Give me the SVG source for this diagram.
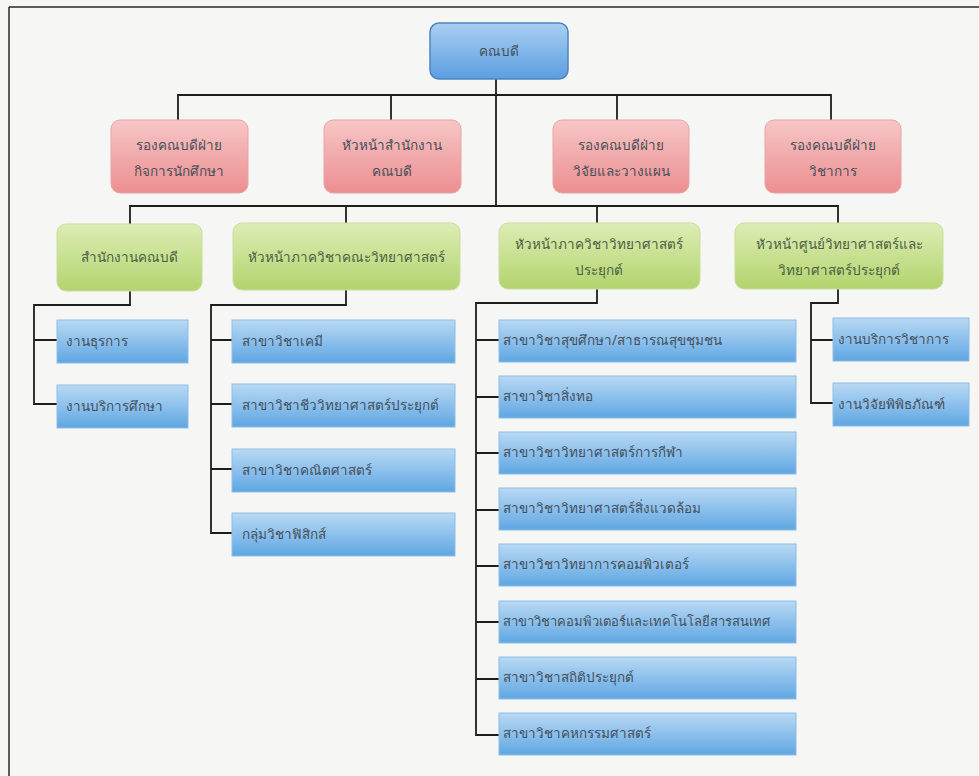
<svg xmlns="http://www.w3.org/2000/svg" width="979" height="776" viewBox="0 0 979 776">
<defs>
<linearGradient id="gBlue" x1="0" y1="0" x2="0" y2="1">
<stop offset="0" stop-color="#b9d9f4"/><stop offset="0.5" stop-color="#8cc0ec"/><stop offset="1" stop-color="#5fa6e2"/>
</linearGradient>
<linearGradient id="gDean" x1="0" y1="0" x2="0" y2="1">
<stop offset="0" stop-color="#a9cff2"/><stop offset="1" stop-color="#5c9ee0"/>
</linearGradient>
<linearGradient id="gRed" x1="0" y1="0" x2="0" y2="1">
<stop offset="0" stop-color="#f7c6c6"/><stop offset="1" stop-color="#ec8e90"/>
</linearGradient>
<linearGradient id="gGreen" x1="0" y1="0" x2="0" y2="1">
<stop offset="0" stop-color="#ddedb4"/><stop offset="1" stop-color="#b2d46e"/>
</linearGradient>
</defs>
<style>
text{font-family:"Noto Sans","DejaVu Sans","Liberation Sans",sans-serif;font-size:13.5px;fill:#45505a}
.c{text-anchor:middle}
.blue rect{fill:url(#gBlue);stroke:#8dbde6;stroke-width:1}
.dean rect{fill:url(#gDean);stroke:#4f85bd;stroke-width:1.5}
.red rect{fill:url(#gRed);stroke:#e7a5a6;stroke-width:1}
.green rect{fill:url(#gGreen);stroke:#c9dea0;stroke-width:1}
.green text{fill:#4d5e44}
#connectors path{fill:none;stroke:#1e1e1e;stroke-width:1.8}
</style>
<rect x="0" y="0" width="979" height="776" fill="#f6f6f4"/>
<path d="M9,7 H979 M9,7 V776" fill="none" stroke="#2a2a2a" stroke-width="1.5"/>

<g id="connectors">
<path d="M496,79 V206"/>
<path d="M178,120 V95 H831 V120 M391,95 V120 M617,95 V120"/>
<path d="M130,224 V206 H838 V223 M346,206 V223 M597,206 V223"/>
<path d="M130,291 V305 H34 V404 H57 M34,340 H57"/>
<path d="M346,290 V305 H211 V533 H232 M211,340 H232 M211,404 H232 M211,469 H232"/>
<path d="M597,289 V303 H476 V735 H499 M476,340 H499 M476,397 H499 M476,453 H499 M476,510 H499 M476,566 H499 M476,622 H499 M476,679 H499"/>
<path d="M838,289 V303 H811 V403 H833 M811,340 H833"/>
</g>

<g id="n-dean" class="dean"><rect x="430" y="23" width="138" height="56" rx="9"/><text class="c" x="499" y="56">คณบดี</text></g>

<g id="n-r1" class="red"><rect x="111" y="120" width="137" height="73" rx="9"/><text class="c" x="179" y="150">รองคณบดีฝ่าย</text><text class="c" x="179" y="176">กิจการนักศึกษา</text></g>
<g id="n-r2" class="red"><rect x="324" y="120" width="137" height="73" rx="9"/><text class="c" x="392" y="150">หัวหน้าสำนักงาน</text><text class="c" x="392" y="176">คณบดี</text></g>
<g id="n-r3" class="red"><rect x="553" y="120" width="136" height="73" rx="9"/><text class="c" x="621" y="150">รองคณบดีฝ่าย</text><text class="c" x="621" y="176">วิจัยและวางแผน</text></g>
<g id="n-r4" class="red"><rect x="765" y="120" width="136" height="73" rx="9"/><text class="c" x="833" y="150">รองคณบดีฝ่าย</text><text class="c" x="833" y="176">วิชาการ</text></g>

<g id="n-g1" class="green"><rect x="57" y="224" width="145" height="67" rx="9"/><text class="c" x="129" y="262">สำนักงานคณบดี</text></g>
<g id="n-g2" class="green"><rect x="233" y="223" width="227" height="67" rx="9"/><text class="c" x="346" y="262">หัวหน้าภาควิชาคณะวิทยาศาสตร์</text></g>
<g id="n-g3" class="green"><rect x="499" y="223" width="201" height="66" rx="9"/><text class="c" x="599" y="249">หัวหน้าภาควิชาวิทยาศาสตร์</text><text class="c" x="599" y="275">ประยุกต์</text></g>
<g id="n-g4" class="green"><rect x="735" y="223" width="208" height="66" rx="9"/><text class="c" x="839" y="249">หัวหน้าศูนย์วิทยาศาสตร์และ</text><text class="c" x="839" y="275">วิทยาศาสตร์ประยุกต์</text></g>

<g id="n-a1" class="blue"><rect x="57" y="320" width="131" height="43"/><text x="66" y="346">งานธุรการ</text></g>
<g id="n-a2" class="blue"><rect x="57" y="385" width="131" height="43"/><text x="66" y="411">งานบริการศึกษา</text></g>

<g id="n-b1" class="blue"><rect x="232" y="320" width="223" height="43"/><text x="242" y="346">สาขาวิชาเคมี</text></g>
<g id="n-b2" class="blue"><rect x="232" y="384" width="223" height="43"/><text x="242" y="410">สาขาวิชาชีววิทยาศาสตร์ประยุกต์</text></g>
<g id="n-b3" class="blue"><rect x="232" y="449" width="223" height="43"/><text x="242" y="475">สาขาวิชาคณิตศาสตร์</text></g>
<g id="n-b4" class="blue"><rect x="232" y="513" width="223" height="43"/><text x="242" y="539">กลุ่มวิชาฟิสิกส์</text></g>

<g id="n-c1" class="blue"><rect x="499" y="320" width="297" height="42"/><text x="503" y="345">สาขาวิชาสุขศึกษา/สาธารณสุขชุมชน</text></g>
<g id="n-c2" class="blue"><rect x="499" y="376" width="297" height="42"/><text x="503" y="401">สาขาวิชาสิ่งทอ</text></g>
<g id="n-c3" class="blue"><rect x="499" y="432" width="297" height="42"/><text x="503" y="457">สาขาวิชาวิทยาศาสตร์การกีฬา</text></g>
<g id="n-c4" class="blue"><rect x="499" y="488" width="297" height="42"/><text x="503" y="513">สาขาวิชาวิทยาศาสตร์สิ่งแวดล้อม</text></g>
<g id="n-c5" class="blue"><rect x="499" y="544" width="297" height="42"/><text x="503" y="569">สาขาวิชาวิทยาการคอมพิวเตอร์</text></g>
<g id="n-c6" class="blue"><rect x="499" y="601" width="297" height="42"/><text x="503" y="626" style="font-size:13px">สาขาวิชาคอมพิวเตอร์และเทคโนโลยีสารสนเทศ</text></g>
<g id="n-c7" class="blue"><rect x="499" y="657" width="297" height="42"/><text x="503" y="682">สาขาวิชาสถิติประยุกต์</text></g>
<g id="n-c8" class="blue"><rect x="499" y="713" width="297" height="42"/><text x="503" y="738">สาขาวิชาคหกรรมศาสตร์</text></g>

<g id="n-d1" class="blue"><rect x="833" y="318" width="136" height="43"/><text x="838" y="344">งานบริการวิชาการ</text></g>
<g id="n-d2" class="blue"><rect x="833" y="383" width="136" height="43"/><text x="838" y="409">งานวิจัยพิพิธภัณฑ์</text></g>
</svg>
